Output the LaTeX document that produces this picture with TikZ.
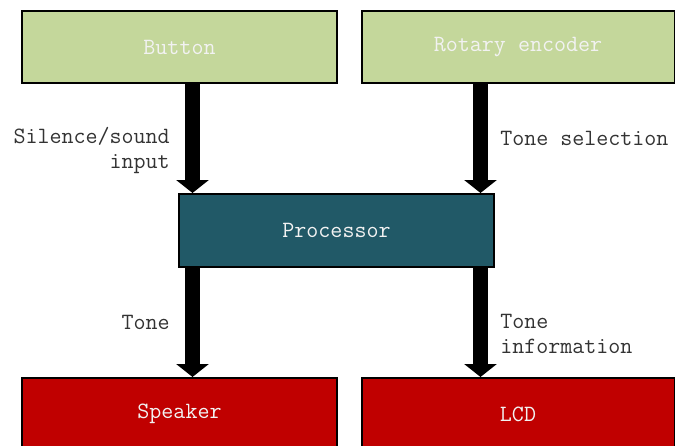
\documentclass[tikz,border=0pt]{standalone}
\usepackage{fontspec}
\usetikzlibrary{arrows.meta}
\definecolor{boxgreen}{HTML}{C4D79B}
\definecolor{boxteal}{HTML}{215967}
\definecolor{boxred}{HTML}{C00000}
\definecolor{labelgray}{HTML}{333333}
\definecolor{boxtext}{HTML}{F2F2F2}
\tikzset{
  blockbox/.style={draw=black, line width=1.5pt, minimum width=236.25pt, minimum height=54pt, inner sep=0pt, text=boxtext, font=\ttfamily\fontsize{17.5}{18.75}\selectfont},
  flowarrow/.style={line width=11.25pt, -{Triangle[width=24pt,length=9.75pt]}},
  flowlabel/.style={text=labelgray, font=\ttfamily\fontsize{17.5}{18.75}\selectfont, inner sep=0pt}
}
\begin{document}
\begin{tikzpicture}[x=0.75pt,y=-0.75pt]
\useasboundingbox (0,0) rectangle (675,446);
\clip (0,0) rectangle (675,446);
\node[blockbox, fill=boxgreen] (button) at (179.5,47) {Button};
\node[blockbox, fill=boxgreen, minimum width=234.75pt] (rotary) at (518,47) {Rotary encoder};
\node[blockbox, fill=boxteal, minimum height=54.75pt] (proc) at (336.5,230.5) {Processor};
\node[blockbox, fill=boxred] (speaker) at (179.5,414) {Speaker};
\node[blockbox, fill=boxred, minimum width=234.75pt] (lcd) at (518,414) {LCD};
\coordinate (ba) at ([xshift=9.75pt]button.south);
\coordinate (ra) at ([xshift=-28.125pt]rotary.south);
\coordinate (sa) at ([xshift=9.75pt]speaker.north);
\coordinate (la) at ([xshift=-28.125pt]lcd.north);
\draw[flowarrow] (ba) -- (proc.north -| ba);
\draw[flowarrow] (ra) -- (proc.north -| ra);
\draw[flowarrow] (proc.south -| sa) -- (sa);
\draw[flowarrow] (proc.south -| la) -- (la);
\node[flowlabel, anchor=east, align=right] (l1) at (170,150) {Silence/sound\\input};
\node[flowlabel, anchor=west, align=left] (l2) at (500,138) {Tone selection};
\node[flowlabel, anchor=east, align=right] (l3) at (170,322) {Tone};
\node[flowlabel, anchor=west, align=left] (l4) at (500,334) {Tone\\information};
\end{tikzpicture}
\end{document}
